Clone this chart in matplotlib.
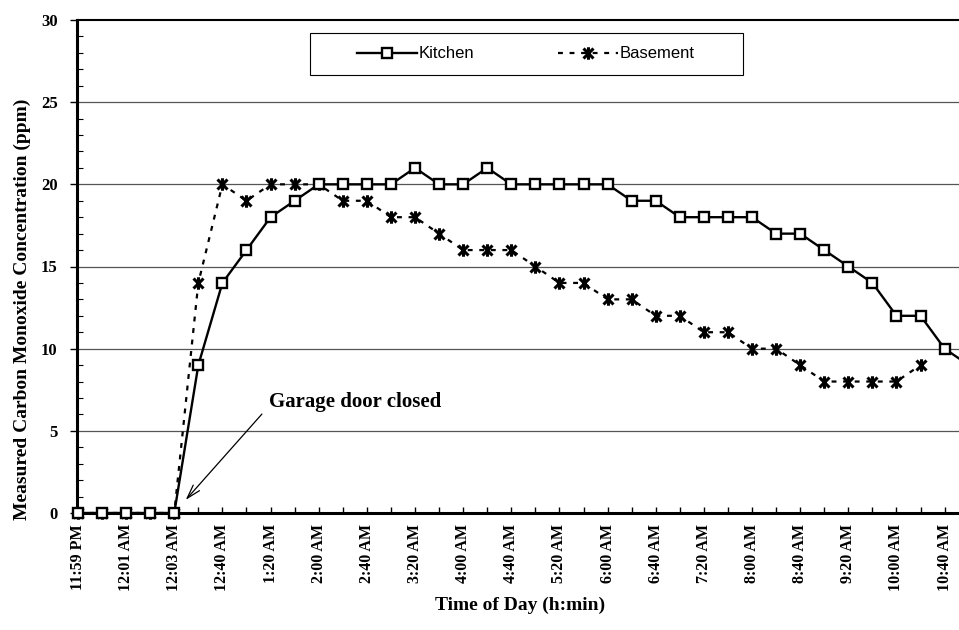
import matplotlib
matplotlib.use("Agg")
import matplotlib.pyplot as plt
from matplotlib.path import Path
from matplotlib.patches import Rectangle
from matplotlib.ticker import MultipleLocator

times = ["11:59 PM", "12:00 AM", "12:01 AM", "12:02 AM", "12:03 AM",
         "12:20 AM", "12:40 AM", "1:00 AM", "1:20 AM", "1:40 AM", "2:00 AM",
         "2:20 AM", "2:40 AM", "3:00 AM", "3:20 AM", "3:40 AM", "4:00 AM",
         "4:20 AM", "4:40 AM", "5:00 AM", "5:20 AM", "5:40 AM", "6:00 AM",
         "6:20 AM", "6:40 AM", "7:00 AM", "7:20 AM", "7:40 AM", "8:00 AM",
         "8:20 AM", "8:40 AM", "9:00 AM", "9:20 AM", "9:40 AM", "10:00 AM",
         "10:20 AM", "10:40 AM", "11:00 AM"]

kitchen = [0, 0, 0, 0, 0, 9, 14, 16, 18, 19, 20, 20, 20, 20, 21, 20, 20, 21,
           20, 20, 20, 20, 20, 19, 19, 18, 18, 18, 18, 17, 17, 16, 15, 14, 12,
           12, 10, 9]
basement = [0, 0, 0, 0, 0, 14, 20, 19, 20, 20, 20, 19, 19, 18, 18, 17, 16, 16,
            16, 15, 14, 14, 13, 13, 12, 12, 11, 11, 10, 10, 9, 8, 8, 8, 8, 9]

plt.rcParams['font.family'] = ['Liberation Serif', 'DejaVu Serif']

fig = plt.figure(figsize=(9.59, 6.3), dpi=100)
ax = fig.add_axes([77/959, 117/630, 882/959, 493/630])

# asterisk marker: X plus vertical bar
ast = Path([(-1, -1), (1, 1), (-1, 1), (1, -1), (0, -1.25), (0, 1.25)],
           [Path.MOVETO, Path.LINETO, Path.MOVETO, Path.LINETO, Path.MOVETO, Path.LINETO])

xk = list(range(len(kitchen)))
xb = list(range(len(basement)))

ax.plot(xb, basement, color='black', lw=1.6, linestyle=(0, (2.2, 3)),
        marker=ast, markersize=9, markeredgewidth=2.2, markerfacecolor='black',
        markeredgecolor='black', label='Basement', clip_on=False, zorder=4)
ax.plot(xk, kitchen, color='black', lw=1.7, marker='s', markersize=7.5,
        markerfacecolor='white', markeredgecolor='black', markeredgewidth=1.7,
        label='Kitchen', clip_on=False, zorder=5)

ax.set_xlim(-0.04, 882/24.1)
ax.set_ylim(0, 30)

for yv in [5, 10, 15, 20, 25]:
    ax.axhline(yv, color='#555555', lw=0.9, zorder=1)

ax.set_xticks(xk[:37])
ax.set_xticklabels([t if i % 2 == 0 else '' for i, t in enumerate(times[:37])],
                   rotation=90, fontsize=11.5, fontweight='bold')
ax.tick_params(axis='x', direction='in', length=4, width=1, pad=8)
ax.yaxis.set_major_locator(MultipleLocator(5))
ax.yaxis.set_minor_locator(MultipleLocator(1))
ax.tick_params(axis='y', which='major', direction='out', length=5, width=1,
               labelsize=12, pad=9)
ax.tick_params(axis='y', which='minor', direction='in', length=4, width=0.8)
for lab in ax.get_yticklabels():
    lab.set_fontweight('bold')

ax.spines['left'].set_linewidth(2.2)
ax.spines['bottom'].set_linewidth(2.2)
ax.spines['top'].set_linewidth(1.5)
ax.spines['right'].set_visible(False)

# legend box and legend
ax.add_patch(Rectangle(((310-77)/882, (513-75)/493), (743-310)/882, 42/493,
                       transform=ax.transAxes, facecolor='white',
                       edgecolor='black', lw=0.8, zorder=6))
handles, labels = ax.get_legend_handles_labels()
leg = ax.legend(handles[::-1], labels[::-1], ncol=2, loc='center',
                bbox_to_anchor=((526-77)/882, (513-54)/493), frameon=False,
                numpoints=1, handlelength=3.6, handletextpad=0.1,
                columnspacing=5.0, borderpad=0,
                prop={'family': 'Liberation Sans', 'size': 12})
leg.set_zorder(7)

ax.text((268-77)/24.1, (513-402)/16.43, 'Garage door closed', fontsize=15,
        fontweight='bold', ha='left', va='center', zorder=6)
ax.annotate('', xy=((183-77)/24.1, (513-502)/16.43),
            xytext=((263-77)/24.1, (513-412)/16.43),
            arrowprops=dict(arrowstyle='->,head_length=1.0,head_width=0.3',
                        lw=0.9, color='black'), zorder=6)

fig.text(22/959, 1-309/630, 'Measured Carbon Monoxide Concentration (ppm)',
         rotation=90, fontsize=14, fontweight='bold', ha='center', va='center')
fig.text(520/959, 1-605/630, 'Time of Day (h:min)', fontsize=14,
         fontweight='bold', ha='center', va='center')

fig.savefig('out.png', dpi=100)
